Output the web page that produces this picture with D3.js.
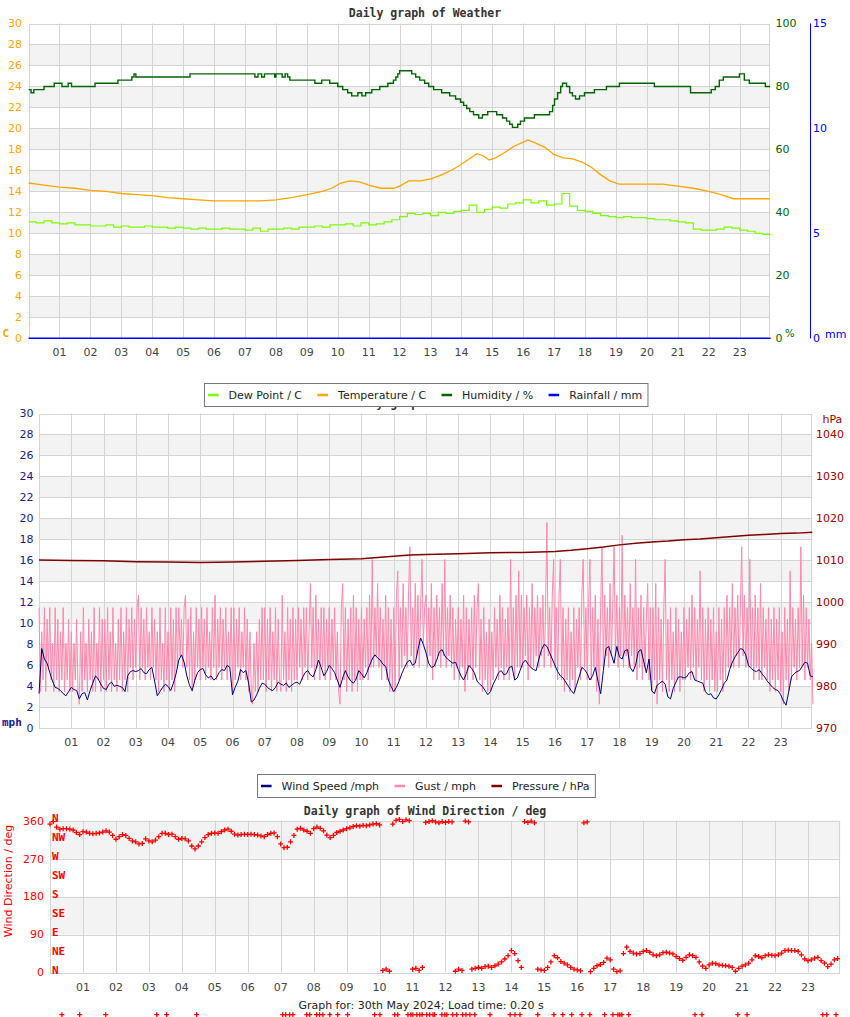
<!DOCTYPE html>
<html><head><meta charset="utf-8">
<script src="https://cdn.jsdelivr.net/npm/d3@7"></script>
<style>body{margin:0;background:#fff}svg{display:block}</style>
</head><body>
<svg id="chart" width="850" height="1017"></svg>
<script>
// ---------------- DATA ----------------
const hourTicks = [1,2,3,4,5,6,7,8,9,10,11,12,13,14,15,16,17,18,19,20,21,22,23];
const hourLabels = ["01","02","03","04","05","06","07","08","09","10","11","12","13","14","15","16","17","18","19","20","21","22","23"];
const tStart = 0.03, tEnd = 23.98;

// Chart 1 axes
const tempTicks = [0,2,4,6,8,10,12,14,16,18,20,22,24,26,28,30];
const humTicks = [0,20,40,60,80,100];
const rainTicks = [0,5,10,15];
// Chart 2 axes
const speedTicks = [0,2,4,6,8,10,12,14,16,18,20,22,24,26,28,30];
const pressTicks = [970,980,990,1000,1010,1020,1030,1040];
// Chart 3 axes
const dirTicks = [0,90,180,270,360];
const compassLabels = ["N","NE","E","SE","S","SW","W","NW","N"];
const compassDeg = [0,45,90,135,180,225,270,315,360];

// Humidity % (change points: [hour, value])
const humidity = [[0,79],[0.08,78],[0.17,79],[0.5,80],[0.83,81],[1.08,80],[1.28,81],[1.39,80],[2.15,81],[2.89,82],[3.34,83],[3.41,84],[3.47,83],[5.22,84],[7.32,83],[7.42,84],[7.54,83],[7.63,84],[7.96,83],[8.0,84],[8.2,83],[8.3,84],[8.38,83],[8.45,82],[9.26,81],[9.48,82],[9.74,81],[10.0,80],[10.16,79],[10.32,78],[10.45,77],[10.65,78],[10.78,77],[10.9,78],[11.1,79],[11.36,80],[11.62,81],[11.8,82],[11.88,83],[11.94,84],[12.0,85],[12.39,84],[12.52,83],[12.65,82],[12.81,81],[12.94,80],[13.1,79],[13.36,78],[13.62,77],[13.81,76],[13.97,75],[14.07,74],[14.17,73],[14.27,72],[14.39,71],[14.56,70],[14.68,71],[14.85,72],[15.14,71],[15.33,70],[15.46,69],[15.56,68],[15.65,67],[15.82,68],[15.91,69],[16.04,70],[16.36,71],[16.85,72],[16.95,74],[17.01,76],[17.11,78],[17.21,80],[17.27,81],[17.4,80],[17.5,78],[17.59,77],[17.69,76],[17.82,77],[17.98,78],[18.3,79],[18.69,80],[19.11,81],[20.24,80],[21.41,78],[22.08,79],[22.21,80],[22.34,82],[22.47,83],[22.99,84],[23.15,82],[23.31,81],[23.83,80],[23.98,80]];

// Temperature C ([hour, value])
const temperature = [[0,14.8],[0.5,14.6],[1,14.4],[1.5,14.3],[2,14.1],[2.5,14.0],[3,13.8],[3.5,13.7],[4,13.6],[4.5,13.4],[5,13.3],[5.5,13.2],[6,13.1],[6.5,13.1],[7,13.1],[7.5,13.1],[8,13.2],[8.5,13.4],[9,13.7],[9.5,14.0],[9.8,14.3],[10.1,14.8],[10.4,15.0],[10.7,14.9],[11.0,14.6],[11.4,14.3],[11.8,14.3],[12.0,14.5],[12.3,15.0],[12.7,15.0],[13.0,15.2],[13.3,15.5],[13.6,15.9],[13.9,16.4],[14.2,17.0],[14.5,17.6],[14.7,17.4],[14.9,17.0],[15.1,17.2],[15.4,17.7],[15.7,18.3],[16.0,18.7],[16.15,18.9],[16.4,18.6],[16.7,18.2],[17.0,17.5],[17.3,17.2],[17.6,17.1],[17.9,16.8],[18.2,16.3],[18.5,15.6],[18.8,15.0],[19.1,14.7],[19.5,14.7],[20,14.7],[20.5,14.7],[21.0,14.5],[21.5,14.3],[22.0,14.0],[22.4,13.7],[22.8,13.3],[23.2,13.3],[23.6,13.3],[23.98,13.3]];

// Dew point C, every 15 minutes
const dewStepH = 0.25;
const dewPoint = [
 11.1,11.0,11.2,11.0, 10.9,11.0,10.8,10.8, 10.7,10.7,10.8,10.6, 10.7,10.6,10.6,10.7,
 10.6,10.6,10.5,10.6, 10.5,10.4,10.5,10.4, 10.4,10.5,10.4,10.4, 10.3,10.5,10.2,10.4,
 10.4,10.5,10.4,10.6, 10.6,10.7,10.6,10.8, 10.8,10.9,10.7,11.0, 10.8,10.9,11.1,11.3,
 11.6,11.9,11.8,11.9, 11.7,12.0,11.9,12.1, 12.2,12.7,12.0,12.3, 12.5,12.4,12.8,12.9,
 13.2,12.9,13.1,12.7, 12.8,13.8,12.6,12.2, 12.1,11.9,11.7,11.6, 11.5,11.6,11.5,11.5,
 11.4,11.3,11.3,11.2, 11.1,11.0,10.4,10.3, 10.3,10.4,10.6,10.5, 10.3,10.2,10.0,9.9, 9.9];

// Rainfall mm, hourly
const rainfall = [0,0,0,0,0,0,0,0,0,0,0,0,0,0,0,0,0,0,0,0,0,0,0,0,0];

// Wind speed mph, every 5 minutes
const windStepH = 1/12;
const windSpeed = [
 3.3,7.6,6.6,6.2,5.3,4.5,3.9,3.8,3.6,3.3,3.1,3.5,
 3.9,3.7,3.6,2.8,3.3,3.4,2.7,3.6,4.3,5.0,4.7,4.2,
 3.8,3.7,4.2,4.4,4.0,4.1,4.0,3.9,3.5,5.0,5.4,5.5,
 5.4,5.5,5.7,5.3,5.2,5.6,5.8,4.5,3.1,3.5,3.9,4.2,
 4.0,3.6,4.3,5.2,6.5,7.0,6.3,5.0,4.1,3.6,4.6,5.3,
 5.6,5.7,5.1,4.8,5.0,4.6,4.8,5.3,5.6,5.5,6.0,5.8,
 3.2,3.9,4.5,5.6,5.3,5.5,4.3,2.5,2.7,3.2,3.8,4.3,
 4.2,3.9,3.7,3.6,3.9,4.4,4.2,4.1,4.3,3.9,4.1,4.3,
 4.4,4.2,4.8,5.3,5.5,5.1,4.9,5.6,6.5,5.8,5.0,5.4,
 6.0,5.7,5.3,4.6,3.9,4.8,5.5,4.9,4.5,4.3,4.7,5.5,
 5.2,4.8,5.3,6.0,6.6,7.0,6.7,6.5,6.1,5.9,4.6,4.0,
 3.5,3.9,4.5,5.2,5.8,6.3,6.5,6.0,6.2,7.5,8.6,8.0,
 7.2,6.2,5.8,5.9,6.5,7.3,7.5,6.9,6.6,6.4,6.2,6.3,
 5.6,5.0,4.6,5.2,6.0,5.7,5.3,4.5,4.2,4.0,3.6,3.2,
 3.5,4.2,4.7,5.3,5.5,5.1,5.2,5.8,5.9,4.6,4.8,5.5,
 6.2,6.5,6.1,5.8,5.6,5.5,6.6,7.5,8.0,7.8,7.2,6.6,
 6.0,5.4,5.0,4.8,4.4,4.0,3.6,3.3,4.1,4.9,5.8,5.6,
 5.2,4.6,5.0,5.8,4.5,3.3,5.5,7.6,7.8,7.0,6.2,7.8,
 6.8,6.6,7.4,7.5,5.8,5.4,6.0,7.3,7.5,6.4,5.3,6.6,
 3.6,3.3,4.1,4.3,4.5,4.2,3.0,2.8,3.8,4.4,4.9,4.9,
 4.8,4.9,5.3,5.4,4.6,4.5,4.4,4.3,3.5,3.2,3.3,2.9,
 2.8,3.2,3.7,4.3,4.6,5.6,6.3,6.8,7.2,7.6,7.5,7.0,
 6.0,5.7,5.5,5.4,5.6,5.2,4.9,4.5,4.2,3.9,3.7,3.6,
 3.2,2.6,2.2,3.5,4.9,5.2,5.4,5.5,5.9,6.3,6.2,5.0, 4.9];

// Gust mph, every 2.5 minutes
const gustStepH = 1/24;
const gust = [
 11.5,3.5,9.2,4.6,11.5,3.5,10.4,5.8,11.5,4.6,8.1,3.5,11.5,4.6,10.4,3.5,9.2,4.6,11.5,3.5,8.1,4.6,10.4,3.5,
 9.2,3.5,8.1,4.6,10.4,3.5,2.3,9.2,3.5,11.5,4.6,8.1,3.5,10.4,4.6,9.2,3.5,11.5,3.5,8.1,4.6,11.5,3.5,10.4,
 4.6,10.4,3.5,11.5,4.6,9.2,3.5,11.5,4.6,8.1,3.5,10.4,4.6,11.5,3.5,9.2,4.6,11.5,3.5,10.4,5.8,11.5,4.6,10.4,
 5.8,11.5,12.7,4.6,11.5,5.8,10.4,4.6,11.5,5.8,9.2,4.6,11.5,5.8,10.4,4.6,9.2,3.5,11.5,4.6,8.1,3.5,11.5,4.6,
 9.2,3.5,11.5,4.6,10.4,3.5,11.5,5.8,11.5,6.9,10.4,5.8,11.5,12.7,5.8,10.4,4.6,11.5,3.5,9.2,4.6,11.5,5.8,10.4,
 4.6,11.5,5.8,10.4,4.6,11.5,5.8,9.2,4.6,11.5,5.8,12.7,4.6,10.4,5.8,11.5,4.6,10.4,5.8,11.5,4.6,9.2,5.8,11.5,
 3.5,11.5,4.6,10.4,5.8,11.5,4.6,9.2,5.8,11.5,4.6,10.4,3.5,9.2,3.5,2.3,8.1,3.5,9.2,3.5,10.4,4.6,11.5,4.6,
 11.5,3.5,10.4,4.6,11.5,3.5,9.2,4.6,11.5,3.5,10.4,4.6,3.5,12.7,4.6,9.2,3.5,11.5,4.6,10.4,3.5,11.5,4.6,10.4,
 4.6,11.5,5.8,10.4,4.6,11.5,5.8,11.5,4.6,9.2,13.8,5.8,11.5,4.6,12.7,5.8,10.4,4.6,11.5,5.8,11.5,4.6,10.4,5.8,
 11.5,4.6,10.4,5.8,11.5,4.6,9.2,3.5,2.3,11.5,13.8,4.6,11.5,3.5,10.4,4.6,11.5,3.5,12.7,4.6,11.5,3.5,10.4,4.6,
 11.5,4.6,10.4,5.8,11.5,4.6,12.7,5.8,16.1,5.8,11.5,6.9,13.8,5.8,11.5,4.6,10.4,5.8,12.7,4.6,11.5,3.5,10.4,3.5,
 11.5,3.5,12.7,15.0,4.6,11.5,5.8,13.8,6.9,11.5,5.8,12.7,17.3,6.9,11.5,5.8,13.8,6.9,12.7,5.8,11.5,16.1,8.1,11.5,
 12.7,5.8,11.5,6.9,13.8,4.6,11.5,5.8,12.7,6.9,11.5,5.8,13.8,6.9,16.1,5.8,11.5,6.9,12.7,5.8,11.5,4.6,10.4,5.8,
 11.5,4.6,10.4,5.8,12.7,3.5,11.5,4.6,10.4,5.8,11.5,4.6,12.7,5.8,11.5,13.8,4.6,10.4,3.5,11.5,4.6,9.2,3.5,10.4,
 3.5,9.2,4.6,11.5,5.8,10.4,4.6,12.7,5.8,11.5,4.6,10.4,5.8,11.5,4.6,16.1,5.8,11.5,4.6,12.7,5.8,15.0,5.8,12.7,
 5.8,11.5,6.9,12.7,4.6,11.5,5.8,13.8,5.8,11.5,6.9,12.7,5.8,11.5,6.9,12.7,5.8,11.5,19.6,6.9,11.5,5.8,12.7,16.1,
 5.8,11.5,4.6,12.7,16.1,4.6,11.5,3.5,10.4,4.6,11.5,3.5,9.2,4.6,11.5,3.5,10.4,5.8,11.5,4.6,12.7,16.1,5.8,11.5,
 4.6,11.5,16.1,4.6,11.5,5.8,12.7,3.5,10.4,2.3,11.5,17.3,5.8,12.7,6.9,11.5,5.8,13.8,6.9,11.5,17.3,6.9,12.7,5.8,
 11.5,6.9,18.4,5.8,12.7,6.9,11.5,5.8,13.8,6.9,11.5,5.8,16.1,4.6,11.5,5.8,12.7,4.6,11.5,5.8,10.4,13.8,4.6,11.5,
 3.5,11.5,4.6,13.8,2.3,11.5,4.6,10.4,3.5,11.5,16.1,4.6,10.4,3.5,11.5,4.6,9.2,3.5,11.5,4.6,10.4,3.5,9.2,4.6,
 11.5,4.6,10.4,5.8,11.5,4.6,12.7,5.8,11.5,4.6,10.4,5.8,15.0,4.6,11.5,3.5,10.4,4.6,11.5,3.5,10.4,4.6,11.5,3.5,
 9.2,3.5,11.5,4.6,10.4,3.5,11.5,4.6,12.7,5.8,11.5,5.8,13.8,5.8,11.5,6.9,12.7,5.8,11.5,17.3,6.9,12.7,5.8,11.5,
 5.8,16.1,5.8,11.5,4.6,12.7,5.8,11.5,4.6,13.8,4.6,11.5,5.8,10.4,4.6,11.5,3.5,10.4,4.6,11.5,3.5,10.4,4.6,11.5,
 3.5,9.2,2.3,11.5,4.6,10.4,3.5,15.0,4.6,11.5,5.8,10.4,4.6,11.5,5.8,17.3,5.8,12.7,4.6,11.5,5.8,10.4,4.6,8.1, 2.3];

// Pressure hPa ([hour, value])
const pressure = [[0,1010.1],[1,1010.0],[2,1009.9],[3,1009.7],[4,1009.6],[5,1009.5],[6,1009.6],[7,1009.8],[8,1010.0],[9,1010.2],[10,1010.4],[10.5,1010.7],[11,1011.0],[11.5,1011.3],[12,1011.4],[13,1011.6],[14,1011.8],[15,1011.9],[16,1012.1],[16.5,1012.4],[17,1012.8],[17.5,1013.2],[18,1013.7],[18.5,1014.1],[19,1014.4],[19.5,1014.6],[20,1014.9],[20.5,1015.1],[21,1015.4],[21.5,1015.7],[22,1016.0],[22.5,1016.2],[23,1016.4],[23.5,1016.5],[23.98,1016.7]];

// Wind direction deg, every 6 minutes
const dirStepH = 0.1;
const windDir = [
 352,358,345,340,341,341,340,338,332,327,
 334,333,330,329,330,331,333,336,333,325,
 316,322,327,325,318,312,310,305,306,317,
 312,310,314,322,330,330,327,328,322,316,
 318,317,312,300,293,300,310,320,327,330,
 331,330,334,338,340,335,328,326,327,328,
 327,328,327,326,324,322,327,330,331,322,
 305,296,297,310,325,340,342,338,335,330,
 341,345,342,336,326,320,325,332,335,338,
 341,343,346,348,347,349,348,350,352,353,
 350,5,8,3,352,361,363,358,362,360,
 8,10,5,12,356,358,360,357,355,358,
 356,358,357,3,8,5,359,357,8,10,
 12,10,14,15,12,16,20,25,32,40,
 52,45,28,12,358,356,359,355,8,6,
 5,12,25,40,35,26,22,18,12,8,
 6,4,355,357,2,10,16,19,24,34,
 30,8,2,4,45,60,50,46,44,45,
 50,52,48,42,40,42,47,48,46,44,
 38,33,29,36,42,40,36,25,15,10,
 18,22,21,18,17,16,15,12,3,10,
 15,18,22,30,40,38,35,40,42,41,
 40,42,46,52,53,52,52,50,42,32,
 28,30,34,36,28,22,14,20,30,33];
// Calm readings (logged as -100 deg)
const calmValue = -100;
const calmTimes = [0.36,0.9,1.69,3.24,3.54,4.45,7.06,7.15,7.27,7.37,7.79,7.88,8.09,8.18,8.28,8.49,8.73,9.03,9.85,10.01,10.46,10.55,10.86,10.95,11.01,11.13,11.22,11.29,11.43,11.52,11.62,11.67,11.89,11.98,12.04,12.22,12.34,12.52,12.62,12.74,12.89,13.35,13.96,14.11,14.26,14.8,15.29,15.56,15.83,16.14,16.38,16.83,17.08,17.23,17.29,17.35,17.56,19.57,19.78,20.87,21.15,23.45,23.57,23.85];

// ---------------- DRAW ----------------
const svg = d3.select("#chart");
const SANS = "'DejaVu Sans', sans-serif";
const MONO = "'DejaVu Sans Mono', monospace";
const GRID = "#d4d4d4", BAND = "#f3f3f3", AXTXT = "#444";

function panel(o) {
  const g = svg.append("g");
  const x = d3.scaleLinear().domain([tStart, tEnd]).range([o.left, o.right]);
  const y = d3.scaleLinear().domain(o.domain).range([o.bottom, o.top]);
  o.bands.forEach(b => g.append("rect")
    .attr("x", o.left).attr("width", o.right - o.left)
    .attr("y", y(b[1])).attr("height", y(b[0]) - y(b[1])).attr("fill", BAND));
  o.grid.forEach(v => {
    const yy = Math.round(y(v)) + 0.5;
    g.append("line").attr("x1", o.left).attr("x2", o.right).attr("y1", yy).attr("y2", yy)
      .attr("stroke", GRID).attr("stroke-width", 1);
  });
  hourTicks.forEach((h, i) => {
    const xx = Math.round(x(h)) + 0.5;
    g.append("line").attr("x1", xx).attr("x2", xx).attr("y1", o.top).attr("y2", o.bottom)
      .attr("stroke", GRID);
    g.append("text").attr("x", x(h)).attr("y", o.labelY).attr("dy", "0.35em")
      .attr("text-anchor", "middle").attr("font-family", SANS).attr("font-size", 11)
      .attr("fill", AXTXT).text(hourLabels[i]);
  });
  g.append("rect").attr("x", Math.round(o.left) - 0.5).attr("y", Math.round(o.top) + 0.5)
    .attr("width", Math.round(o.right) - Math.round(o.left)).attr("height", Math.round(o.bottom) - Math.round(o.top))
    .attr("fill", "none").attr("stroke", GRID);
  return {g, x, y};
}

function axisLabels(g, ticks, scale, xPos, anchor, color) {
  ticks.forEach(v => g.append("text").attr("x", xPos).attr("y", scale(v)).attr("dy", "0.35em")
    .attr("text-anchor", anchor).attr("font-family", SANS).attr("font-size", 11)
    .attr("fill", color).text(v));
}

function title(txt, yBase) {
  svg.append("text").attr("x", 425).attr("y", yBase).attr("text-anchor", "middle")
    .attr("font-family", MONO).attr("font-weight", "bold").attr("font-size", 11.5)
    .attr("fill", "#333").text(txt);
}

function legend(cy, items) {
  const g = svg.append("g");
  const box = g.append("rect").attr("fill", "#fff").attr("stroke", "#777").attr("stroke-width", 1);
  let xx = 4;
  items.forEach(it => {
    g.append("line").attr("x1", xx).attr("x2", xx + 10.6).attr("y1", cy - 2).attr("y2", cy - 2)
      .attr("stroke", it.color).attr("stroke-width", 2.5);
    const t = g.append("text").attr("x", xx + 20.6).attr("y", cy + 2).attr("font-family", SANS)
      .attr("font-size", 11).attr("fill", "#222").text(it.label);
    const w = t.node().getComputedTextLength();
    xx += 20.6 + w + 15.4;
  });
  const total = xx - 15.4 + 5.3;
  box.attr("x", 0.5).attr("y", cy - 13.5).attr("width", total).attr("height", 23);
  g.attr("transform", `translate(${Math.round(426 - total / 2)},0)`);
}

// ===== Chart 1: Weather =====
title("Daily graph of Weather", 16.5);
const c1 = panel({left: 29.5, right: 770, top: 23.5, bottom: 338.3, domain: [0, 30],
  bands: [[2,4],[6,8],[10,12],[14,16],[18,20],[22,24],[26,28]], grid: tempTicks, labelY: 352.5});
const yHum = d3.scaleLinear().domain([0, 100]).range([338.3, 23.5]);
const yRain = d3.scaleLinear().domain([0, 15]).range([338.3, 23.5]);

const lineDew = d3.line().x((d, i) => c1.x(i * dewStepH)).y(d => c1.y(d)).curve(d3.curveStepAfter);
c1.g.append("path").datum(dewPoint).attr("d", lineDew).attr("fill", "none").attr("stroke", "#7cfc00").attr("stroke-width", 1.2);
const lineTemp = d3.line().x(d => c1.x(d[0])).y(d => c1.y(d[1]));
c1.g.append("path").datum(temperature).attr("d", lineTemp).attr("fill", "none").attr("stroke", "#ffa500").attr("stroke-width", 1.3);
const lineHum = d3.line().x(d => c1.x(d[0])).y(d => yHum(d[1])).curve(d3.curveStepAfter);
c1.g.append("path").datum(humidity).attr("d", lineHum).attr("fill", "none").attr("stroke", "#006400").attr("stroke-width", 1.4);
const lineRain = d3.line().x((d, i) => c1.x(i)).y(d => yRain(d));
c1.g.append("path").datum(rainfall).attr("d", lineRain).attr("fill", "none").attr("stroke", "#0000ff").attr("stroke-width", 1.5);

axisLabels(c1.g, tempTicks, c1.y, 22, "end", "#ffa500");
axisLabels(c1.g, humTicks, yHum, 775.5, "start", "#006400");
axisLabels(c1.g, rainTicks, yRain, 813, "start", "#0000ff");
c1.g.append("line").attr("x1", 810.5).attr("x2", 810.5).attr("y1", yRain(15)).attr("y2", yRain(0)).attr("stroke", "#0000ff");
c1.g.append("text").attr("x", 2.5).attr("y", 337).attr("font-family", MONO).attr("font-weight", "bold").attr("font-size", 11).attr("fill", "#ffa500").text("C");
c1.g.append("text").attr("x", 785).attr("y", 337).attr("font-family", SANS).attr("font-size", 10).attr("fill", "#006400").text("%");
c1.g.append("text").attr("x", 825).attr("y", 338).attr("font-family", SANS).attr("font-size", 11).attr("fill", "#0000ff").text("mm");

// ===== Chart 2: Wind =====
title("Daily graph of Weather", 406.5);
legend(397, [{label: "Dew Point / C", color: "#7cfc00"}, {label: "Temperature / C", color: "#ffa500"},
             {label: "Humidity / %", color: "#006400"}, {label: "Rainfall / mm", color: "#0000ff"}]);

const c2 = panel({left: 40, right: 812.3, top: 413.5, bottom: 728.3, domain: [0, 30],
  bands: [[2,4],[6,8],[10,12],[14,16],[18,20],[22,24],[26,28]], grid: speedTicks, labelY: 742.5});
const yPress = d3.scaleLinear().domain([970, 1045]).range([728.3, 413.5]);

const lineGust = d3.line().x((d, i) => c2.x(i * gustStepH)).y(d => c2.y(d));
c2.g.append("path").datum(gust).attr("d", lineGust).attr("fill", "none").attr("stroke", "#ff88ad").attr("stroke-width", 1);
const lineWind = d3.line().x((d, i) => c2.x(i * windStepH)).y(d => c2.y(d));
c2.g.append("path").datum(windSpeed).attr("d", lineWind).attr("fill", "none").attr("stroke", "#000080").attr("stroke-width", 1);
const linePress = d3.line().x(d => c2.x(d[0])).y(d => yPress(d[1]));
c2.g.append("path").datum(pressure).attr("d", linePress).attr("fill", "none").attr("stroke", "#800000").attr("stroke-width", 1.5);

axisLabels(c2.g, speedTicks, c2.y, 33.5, "end", "#1a1a8a");
axisLabels(c2.g, pressTicks, yPress, 816, "start", "#990000");
c2.g.append("text").attr("x", 2).attr("y", 726).attr("font-family", MONO).attr("font-weight", "bold").attr("font-size", 11).attr("fill", "#1a1a8a").text("mph");
c2.g.append("text").attr("x", 822.5).attr("y", 423).attr("font-family", SANS).attr("font-size", 11).attr("fill", "#990000").text("hPa");

legend(788, [{label: "Wind Speed /mph", color: "#000080"}, {label: "Gust / mph", color: "#ff88ad"},
             {label: "Pressure / hPa", color: "#800000"}]);

// ===== Chart 3: Wind direction =====
title("Daily graph of Wind Direction / deg", 814.5);
const c3 = panel({left: 51, right: 840.3, top: 820.7, bottom: 972.5, domain: [0, 360],
  bands: [[90,180],[270,360]], grid: dirTicks, labelY: 987});
const cross = "M-2.5,0H2.5M0,-2.5V2.5";
c3.g.selectAll("path.dir").data(windDir).join("path").attr("class", "dir")
  .attr("transform", (d, i) => `translate(${c3.x(i * dirStepH)},${c3.y(d)})`)
  .attr("d", cross).attr("stroke", "#ff0000").attr("stroke-width", 1.3).attr("fill", "none");
c3.g.selectAll("path.calm").data(calmTimes).join("path").attr("class", "calm")
  .attr("transform", d => `translate(${c3.x(d)},${c3.y(calmValue)})`)
  .attr("d", cross).attr("stroke", "#ff0000").attr("stroke-width", 1.3).attr("fill", "none");

axisLabels(c3.g, dirTicks, c3.y, 44, "end", "#ff0000");
compassLabels.forEach((lab, i) => c3.g.append("text").attr("x", 52).attr("y", c3.y(compassDeg[i]) + 1.5)
  .attr("font-family", MONO).attr("font-weight", "bold").attr("font-size", 11).attr("fill", "#ff0000").text(lab));
c3.g.append("text").attr("transform", `translate(12,881) rotate(-90)`).attr("text-anchor", "middle")
  .attr("font-family", SANS).attr("font-size", 11).attr("fill", "#ff0000").text("Wind Direction / deg");

svg.append("text").attr("x", 421).attr("y", 1009).attr("text-anchor", "middle").attr("font-family", SANS)
  .attr("font-size", 11).attr("fill", "#222").text("Graph for: 30th May 2024; Load time: 0.20 s");
</script>
</body></html>
